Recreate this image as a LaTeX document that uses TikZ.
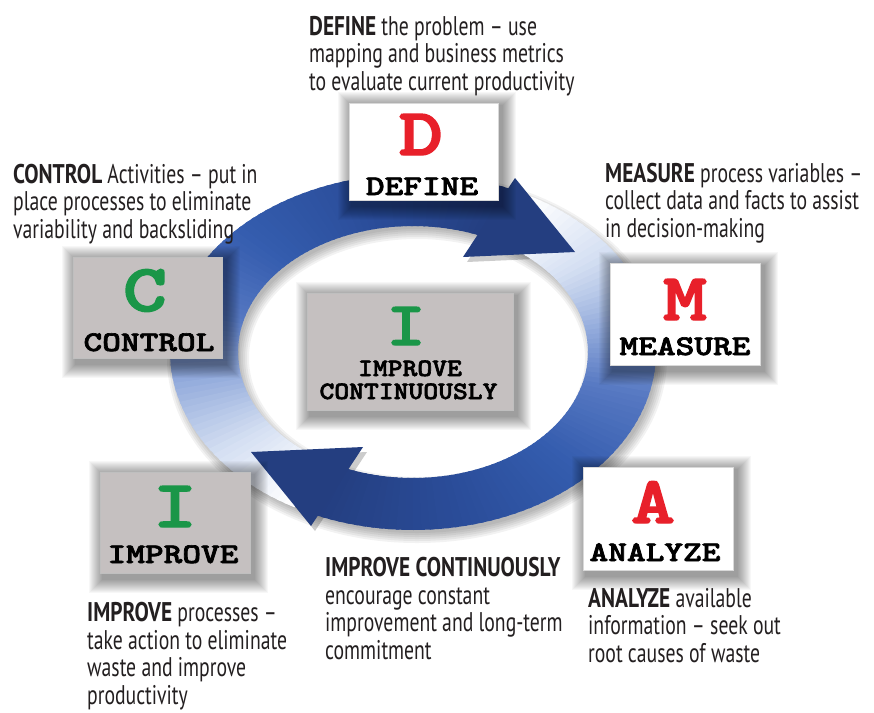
\documentclass[tikz,border=0pt]{standalone}
\usepackage{fontspec}
\setmainfont{PT Sans}[FakeStretch=0.73, BoldFeatures={FakeStretch=0.79}]
\newfontfamily\lmmb{lmmonolt10-bold.otf}[FakeBold=2.2]
\usepackage{graphicx}
\definecolor{ink}{RGB}{35,31,32}
\definecolor{rA}{RGB}{36,62,128}
\definecolor{rB}{RGB}{42,76,152}
\definecolor{rC}{RGB}{52,92,174}
\definecolor{rD}{RGB}{86,120,194}
\definecolor{rE}{RGB}{148,172,220}
\definecolor{rF}{RGB}{212,223,242}
\definecolor{lred}{RGB}{232,32,42}
\definecolor{lgreen}{RGB}{26,150,72}
\definecolor{boxgray}{RGB}{197,192,192}
\def\rcx{413}\def\rcy{352}\def\rao{243}\def\rbo{178}\def\rai{175}\def\rbi{126}
\newcommand{\ringseg}[5]{%
  \pgfmathsetmacro{\rdt}{(#2-#1)/#5}%
  \foreach \ri in {1,...,#5}{%
    \pgfmathsetmacro{\rta}{#1+(\ri-1)*\rdt}%
    \pgfmathsetmacro{\rtb}{\rta+\rdt+0.8}%
    \pgfmathtruncatemacro{\rpc}{100*(\ri-0.5)/#5}%
    \fill[#4!\rpc!#3] ({\rcx+\rao*cos(\rta)},{\rcy-\rbo*sin(\rta)}) -- ({\rcx+\rao*cos(\rtb)},{\rcy-\rbo*sin(\rtb)}) -- ({\rcx+\rai*cos(\rtb)},{\rcy-\rbi*sin(\rtb)}) -- ({\rcx+\rai*cos(\rta)},{\rcy-\rbi*sin(\rta)}) -- cycle;
  }}
\newcommand{\bigL}[2]{\textcolor{#1}{\scalebox{1.25}[1]{\fontsize{67}{67}\selectfont\lmmb #2}}}
\newcommand{\nameL}[1]{\scalebox{1.25}[1]{\fontsize{28.5}{28.5}\selectfont\lmmb #1}}
\newcommand{\midL}[1]{\scalebox{1.13}[1]{\fontsize{25}{25}\selectfont\lmmb #1}}
\pgfdeclarelayer{ringlayer}
\pgfdeclarelayer{shadelayer}
\pgfsetlayers{ringlayer,shadelayer,main}
\tikzset{
  wbox/.style={draw=black!15, line width=0.6pt, fill=white, inner sep=0pt},
  gbox/.style={draw=black!25, line width=0.6pt, fill=boxgray, inner sep=0pt},
  lbl/.style={anchor=base, inner sep=0pt, text=black},
  desc/.style={anchor=base west, align=left, inner sep=0pt, text=ink, font=\fontsize{27}{27.5}\selectfont},
}
\newcommand{\boxshadow}[1]{%
  \foreach \k in {1,...,14}{%
    \fill[black, opacity=0.03] ([shift={(3-\k,3-\k)}]#1.north west) rectangle ([shift={(4+\k,6+\k)}]#1.south east);
  }}
\begin{document}
\begin{tikzpicture}[x=1pt,y=-1pt]
\useasboundingbox (0,0) rectangle (874,712);
\begin{pgfonlayer}{ringlayer}
  \fill[white] (0,0) rectangle (874,712);
  % ring shadow
  \foreach \k in {1,...,6}{
    \fill[black, opacity=0.05, even odd rule] ({\rcx+4},{\rcy+6}) ellipse [x radius={\rao+9-2*\k}, y radius={\rbo+9-2*\k}] ({\rcx+4},{\rcy+6}) ellipse [x radius={\rai-9+2*\k}, y radius={\rbi-9+2*\k}];
  }
  \fill[black, opacity=0.2] (467,262) -- (579,257) -- (519,183) -- cycle;
  \fill[black, opacity=0.2] (367,452) -- (255,457) -- (315,531) -- cycle;
  % top arrow (clockwise over the top)
  \ringseg{66}{100}{rA}{rB}{17}
  \ringseg{100}{135}{rB}{rC}{17}
  \ringseg{135}{165}{rC}{rD}{15}
  \ringseg{165}{190}{rD}{rE}{12}
  \ringseg{190}{215}{rE}{rF}{12}
  \ringseg{215}{240}{rF}{white}{12}
  % bottom arrow
  \ringseg{246}{280}{rA}{rB}{17}
  \ringseg{280}{315}{rB}{rC}{17}
  \ringseg{315}{345}{rC}{rD}{15}
  \ringseg{345}{370}{rD}{rE}{12}
  \ringseg{370}{395}{rE}{rF}{12}
  \ringseg{395}{420}{rF}{white}{12}
  % arrow heads
  \fill[rA] (463,257) -- (575,252) -- (515,178) -- cycle;
  \fill[rA] (363,447) -- (251,452) -- (311,526) -- cycle;
\end{pgfonlayer}

% boxes
\node[wbox, minimum width=149pt, minimum height=97pt] (bd) at (423.5,151.5) {};
\node[wbox, minimum width=150pt, minimum height=102pt] (bm) at (685,314) {};
\node[wbox, minimum width=150pt, minimum height=103pt] (ba) at (658,518.5) {};
\node[gbox, minimum width=150pt, minimum height=101pt] (bi) at (175,522.5) {};
\node[gbox, minimum width=149pt, minimum height=101pt] (bc) at (147.5,307.5) {};
\node[gbox, minimum width=206pt, minimum height=117pt] (bx) at (410,351.5) {};
\begin{pgfonlayer}{shadelayer}
  \boxshadow{bd}\boxshadow{bm}\boxshadow{ba}\boxshadow{bi}\boxshadow{bc}\boxshadow{bx}
\end{pgfonlayer}

% box letters
\node[lbl] (ld) at (421,155) {\bigL{lred}{D}};
\node[lbl] (nd) at (422,195) {\nameL{DEFINE}};
\node[lbl] (lm) at (685,320) {\bigL{lred}{M}};
\node[lbl] (nm) at (685,355) {\nameL{MEASURE}};
\node[lbl] (la) at (653,523) {\bigL{lred}{A}};
\node[lbl] (na) at (655,561) {\nameL{ANALYZE}};
\node[lbl] (li) at (175,527) {\bigL{lgreen}{I}};
\node[lbl] (ni) at (173,563) {\nameL{IMPROVE}};
\node[lbl] (lc) at (145,311) {\bigL{lgreen}{C}};
\node[lbl] (nc) at (149,351) {\nameL{CONTROL}};
\node[lbl] (lx) at (406,345) {\textcolor{lgreen}{\scalebox{1.2}[1]{\fontsize{62}{62}\selectfont\lmmb I}}};
\node[lbl] (nx1) at (410,376) {\midL{IMPROVE}};
\node[lbl] (nx2) at (408.5,399) {\midL{CONTINUOUSLY}};

% descriptions (anchor = baseline of last line)
\node[desc] (tdef) at (309,90) {\textbf{DEFINE} the problem – use\\mapping and business metrics\\to evaluate current productivity};
\node[desc] (tcon) at (13,238) {\textbf{CONTROL} Activities – put in\\place processes to eliminate\\variability and backsliding};
\node[desc] (tmea) at (605,237) {\textbf{MEASURE} process variables –\\collect data and facts to assist\\in decision-making};
\node[desc] (tcont) at (325,659) {\textbf{IMPROVE CONTINUOUSLY}\\encourage constant\\improvement and long-term\\commitment};
\node[desc] (tana) at (588,662) {\textbf{ANALYZE} available\\information – seek out\\root causes of waste};
\node[desc] (timp) at (87,704) {\textbf{IMPROVE} processes –\\take action to eliminate\\waste and improve\\productivity};
\end{tikzpicture}
\end{document}
